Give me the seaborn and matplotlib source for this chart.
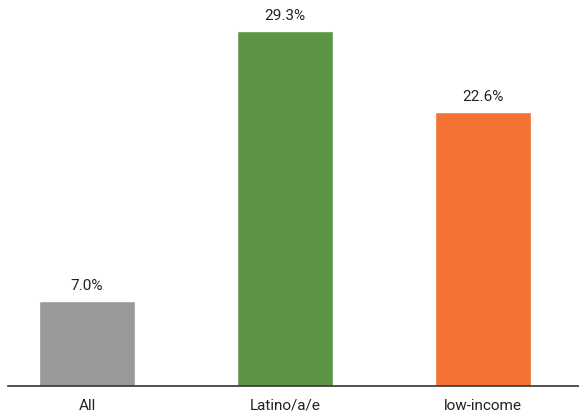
import matplotlib
matplotlib.use("Agg")
import matplotlib.pyplot as plt
import seaborn as sns
import pandas as pd

categories = ["All", "Latino/a/e", "low-income"]
values = [7.0, 29.3, 22.6]
labels = ["7.0%", "29.3%", "22.6%"]
colors = ["#999999", "#5b9545", "#f47234"]

sns.set_style("white")
plt.rcParams["font.family"] = ["Roboto", "DejaVu Sans"]

df = pd.DataFrame({"group": categories, "pct": values})

fig = plt.figure(figsize=(5.79, 4.17), dpi=100)
ax = fig.add_axes([8 / 579, 31 / 417, 571 / 579, 386 / 417])

sns.barplot(data=df, x="group", y="pct", hue="group", palette=colors,
            width=0.485, legend=False, ax=ax, saturation=1)

for i, (v, lab) in enumerate(zip(values, labels)):
    ax.annotate(lab, (i, v), xytext=(0, 6), textcoords="offset points",
                ha="center", va="bottom", fontsize=11, color="#222222")

ax.set_xlim(-0.399, 2.485)
ax.set_ylim(0, 31.85)
ax.set_xlabel("")
ax.set_ylabel("")
ax.set_yticks([])
ax.tick_params(axis="x", length=0, pad=9, labelsize=11, labelcolor="#222222")
for side in ["top", "right", "left"]:
    ax.spines[side].set_visible(False)
ax.spines["bottom"].set_color("#333333")
ax.spines["bottom"].set_linewidth(1.2)

fig.savefig("out.png", dpi=100)
